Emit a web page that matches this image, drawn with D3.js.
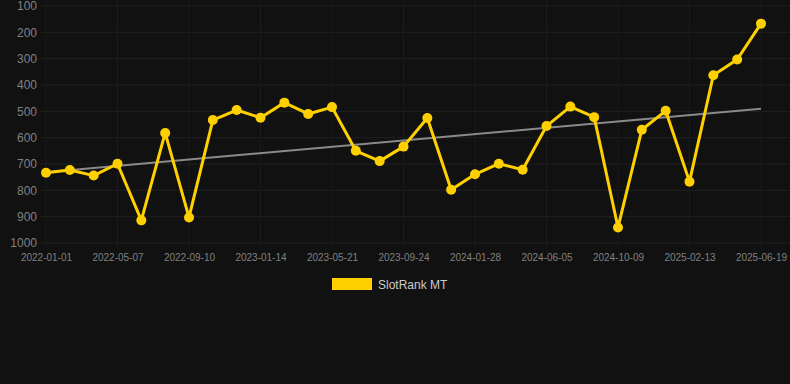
<!DOCTYPE html>
<html><head><meta charset="utf-8">
<script src="https://cdn.jsdelivr.net/npm/d3@7"></script>
<style>html,body{margin:0;padding:0;background:#111111;}svg{display:block;}</style>
</head><body>
<svg id="chart" width="790" height="384"></svg>
<script>
const dates = ["2022-01-01","2022-02-12","2022-03-26","2022-05-07","2022-06-18","2022-07-30","2022-09-10","2022-10-22","2022-12-03","2023-01-14","2023-02-25","2023-04-08","2023-05-21","2023-07-02","2023-08-13","2023-09-24","2023-11-05","2023-12-17","2024-01-28","2024-03-10","2024-04-24","2024-06-05","2024-07-17","2024-08-28","2024-10-09","2024-11-20","2025-01-02","2025-02-13","2025-03-27","2025-05-08","2025-06-19"];
const ranks = [733,723,744,699,914,582,903,533,495,524,467,510,484,650,689,634,525,798,739,699,722,556,482,522,941,570,498,767,363,303,167];
const yTicks = [100,200,300,400,500,600,700,800,900,1000];
const seriesName = "SlotRank MT";

const svg = d3.select("#chart");
const W = 790, H = 384;
const m = {left: 46, right: 29, top: 6, bottom: 141};
const x = d3.scalePoint().domain(dates).range([m.left, W - m.right]);
const y = d3.scaleLinear().domain([100, 1000]).range([m.top, H - m.bottom]);

const gridColor = "#212121";
const vGridColor = "#1b1b1b";
const textColor = "#808080";
const gold = "#FFD000";

// horizontal grid
svg.append("g").selectAll("line").data(yTicks).join("line")
  .attr("x1", 40).attr("x2", W).attr("y1", d => y(d)).attr("y2", d => y(d))
  .attr("stroke", gridColor).attr("stroke-width", 1);
// vertical grid at every 3rd date
const xTickDates = dates.filter((d, i) => i % 3 === 0);
svg.append("g").selectAll("line").data(xTickDates).join("line")
  .attr("x1", d => x(d)).attr("x2", d => x(d)).attr("y1", 0).attr("y2", y(1000) + 5)
  .attr("stroke", vGridColor).attr("stroke-width", 1);

// y axis
const yAxis = d3.axisLeft(y).tickValues(yTicks).tickFormat(d3.format("d")).tickSize(0).tickPadding(0);
const gy = svg.append("g").attr("transform", "translate(37,0)").call(yAxis);
gy.select(".domain").remove();
gy.selectAll("text").attr("fill", textColor).style("font-family", "Arial, 'Liberation Sans', sans-serif").style("font-size", "12px");

// x axis
const xAxis = d3.axisBottom(x).tickValues(xTickDates).tickSize(0).tickPadding(0);
const gx = svg.append("g").attr("transform", `translate(0,${y(1000) + 11})`).call(xAxis);
gx.select(".domain").remove();
gx.selectAll("text").attr("fill", textColor).style("font-family", "Arial, 'Liberation Sans', sans-serif").style("font-size", "10px");

// trend line (least squares)
const idx = ranks.map((v, i) => i);
const n = ranks.length;
const mx = d3.mean(idx), my = d3.mean(ranks);
const slope = d3.sum(idx, i => (i - mx) * (ranks[i] - my)) / d3.sum(idx, i => (i - mx) ** 2);
const icpt = my - slope * mx;
svg.append("line")
  .attr("x1", x(dates[0])).attr("y1", y(icpt))
  .attr("x2", x(dates[n - 1])).attr("y2", y(icpt + slope * (n - 1)))
  .attr("stroke", "#8a8a8a").attr("stroke-width", 2);

// series line
const line = d3.line().x((d, i) => x(dates[i])).y(d => y(d));
svg.append("path").datum(ranks).attr("d", line)
  .attr("fill", "none").attr("stroke", gold).attr("stroke-width", 3).attr("stroke-linejoin", "round");
svg.append("g").selectAll("circle").data(ranks).join("circle")
  .attr("cx", (d, i) => x(dates[i])).attr("cy", d => y(d)).attr("r", 5).attr("fill", gold);

// legend
svg.append("rect").attr("x", 332).attr("y", 278).attr("width", 40).attr("height", 12).attr("fill", gold);
svg.append("text").attr("x", 378).attr("y", 289).text(seriesName)
  .attr("fill", "#cccccc").style("font-family", "Arial, 'Liberation Sans', sans-serif").style("font-size", "12px");
</script>
</body></html>
